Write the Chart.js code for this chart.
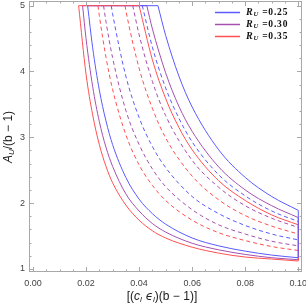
<!DOCTYPE html>
<html>
<head>
<meta charset="utf-8">
<script src="https://cdn.jsdelivr.net/npm/chart.js@4.4.0/dist/chart.umd.min.js"></script>
<style>
html, body { margin: 0; padding: 0; background: #fff; }
</style>
</head>
<body>
<canvas id="chart" width="306" height="306"></canvas>
<script>
// tick labels
var xTickLabels = ['0.00', '0.02', '0.04', '0.06', '0.08', '0.10'];
var yTickLabels = ['1', '2', '3', '4', '5'];
var ruLabels = ['0.25', '0.30', '0.35'];

// R_U = 0.25 (blue)
var blueInnerX = [0.0206, 0.0225, 0.025, 0.0275, 0.03, 0.035, 0.04, 0.045, 0.05, 0.06, 0.07, 0.08, 0.09, 0.10];
var blueInnerY = [5, 4.36, 3.72, 3.25, 2.89, 2.39, 2.06, 1.84, 1.68, 1.47, 1.35, 1.27, 1.21, 1.17];
var blueDash1X = [0.0295, 0.03, 0.035, 0.04, 0.045, 0.05, 0.06, 0.07, 0.08, 0.09, 0.10];
var blueDash1Y = [5, 4.88, 3.93, 3.30, 2.86, 2.54, 2.10, 1.84, 1.66, 1.53, 1.44];
var blueDash2X = [0.0412, 0.045, 0.05, 0.055, 0.06, 0.07, 0.08, 0.09, 0.10];
var blueDash2Y = [5, 4.37, 3.75, 3.29, 2.93, 2.43, 2.11, 1.88, 1.72];
var blueOuterX = [0.0471, 0.05, 0.055, 0.06, 0.07, 0.08, 0.09, 0.10];
var blueOuterY = [5, 4.55, 3.93, 3.46, 2.81, 2.39, 2.10, 1.89];

// R_U = 0.30 (purple)
var purpleInnerX = [0.0187, 0.02, 0.0225, 0.025, 0.0275, 0.03, 0.035, 0.04, 0.045, 0.05, 0.06, 0.07, 0.08, 0.09, 0.10];
var purpleInnerY = [5, 4.50, 3.77, 3.24, 2.85, 2.56, 2.14, 1.88, 1.69, 1.56, 1.39, 1.29, 1.22, 1.17, 1.14];
var purpleDash1X = [0.0266, 0.0275, 0.03, 0.035, 0.04, 0.045, 0.05, 0.06, 0.07, 0.08, 0.09, 0.10];
var purpleDash1Y = [5, 4.76, 4.21, 3.41, 2.89, 2.52, 2.25, 1.90, 1.67, 1.53, 1.42, 1.35];
var purpleDash2X = [0.0376, 0.04, 0.045, 0.05, 0.06, 0.07, 0.08, 0.09, 0.10];
var purpleDash2Y = [5, 4.56, 3.85, 3.33, 2.65, 2.24, 1.96, 1.77, 1.63];
var purpleOuterX = [0.0429, 0.045, 0.05, 0.055, 0.06, 0.07, 0.08, 0.09, 0.10];
var purpleOuterY = [5, 4.65, 3.98, 3.47, 3.09, 2.55, 2.20, 1.96, 1.78];

// R_U = 0.35 (red)
var redInnerX = [0.0172, 0.02, 0.0225, 0.025, 0.0275, 0.03, 0.035, 0.04, 0.045, 0.05, 0.06, 0.07, 0.08, 0.09, 0.10];
var redInnerY = [5, 3.96, 3.34, 2.89, 2.56, 2.31, 1.97, 1.74, 1.58, 1.47, 1.33, 1.24, 1.18, 1.15, 1.12];
var redDash1X = [0.0245, 0.025, 0.0275, 0.03, 0.035, 0.04, 0.045, 0.05, 0.06, 0.07, 0.08, 0.09, 0.10];
var redDash1Y = [5, 4.85, 4.22, 3.73, 3.04, 2.58, 2.27, 2.04, 1.74, 1.55, 1.43, 1.34, 1.28];
var redDash2X = [0.0347, 0.035, 0.04, 0.045, 0.05, 0.06, 0.07, 0.08, 0.09, 0.10];
var redDash2Y = [5, 4.93, 4.05, 3.44, 2.99, 2.41, 2.05, 1.81, 1.65, 1.53];
var redOuterX = [0.0400, 0.045, 0.05, 0.055, 0.06, 0.07, 0.08, 0.09, 0.10];
var redOuterY = [5, 4.18, 3.59, 3.15, 2.81, 2.34, 2.04, 1.82, 1.67];

var BLUE = 'rgb(90,90,255)', PURPLE = 'rgb(165,80,175)', RED = 'rgb(255,80,80)';

function pts(xs, ys) {
	return xs.map(function(x, i) { return {x: x, y: ys[i]}; });
}

function curve(xs, ys, color, dashed, order) {
	return {
		data: pts(xs, ys),
		borderColor: color,
		borderWidth: 1,
		borderDash: dashed ? [4, 3] : [],
		pointRadius: 0,
		cubicInterpolationMode: 'monotone',
		fill: false,
		order: order
	};
}

// straight edge between first points (top) or last points (right side) of two curves
function edge(xs1, ys1, xs2, ys2, color, order, last) {
	var i = last ? xs1.length - 1 : 0, j = last ? xs2.length - 1 : 0;
	return {
		data: [{x: xs1[i], y: ys1[i]}, {x: xs2[j], y: ys2[j]}],
		borderColor: color,
		borderWidth: 1,
		pointRadius: 0,
		tension: 0,
		fill: false,
		order: order
	};
}

function drawParts(ctx, parts, x, y, align) {
	var total = 0;
	parts.forEach(function(p) { ctx.font = p.f; total += ctx.measureText(p.t).width; });
	var cx = align === 'center' ? x - total / 2 : x;
	parts.forEach(function(p) {
		ctx.font = p.f;
		ctx.fillText(p.t, cx, y + (p.dy || 0));
		cx += ctx.measureText(p.t).width;
	});
}

var framePlugin = {
	id: 'frame',
	afterDraw: function(chart) {
		var ctx = chart.ctx, a = chart.chartArea, xs = chart.scales.x, ys = chart.scales.y;
		ctx.save();
		ctx.strokeStyle = '#a8a8a8';
		ctx.lineWidth = 1;
		ctx.strokeRect(a.left + 0.5, a.top + 0.5, a.right - a.left - 1, a.bottom - a.top - 1);
		ctx.beginPath();
		var v, px, len;
		for (v = 0; v <= 0.1001; v += 0.005) {
			px = Math.round(xs.getPixelForValue(v)) + 0.5;
			len = Math.abs(v / 0.02 - Math.round(v / 0.02)) < 1e-6 ? 5 : 2.5;
			ctx.moveTo(px, a.bottom); ctx.lineTo(px, a.bottom - len);
			ctx.moveTo(px, a.top); ctx.lineTo(px, a.top + len);
		}
		for (v = 1; v <= 5.001; v += 0.2) {
			px = Math.round(ys.getPixelForValue(v)) + 0.5;
			len = Math.abs(v - Math.round(v)) < 1e-6 ? 5 : 2.5;
			ctx.moveTo(a.left, px); ctx.lineTo(a.left + len, px);
			ctx.moveTo(a.right, px); ctx.lineTo(a.right - len, px);
		}
		ctx.stroke();

		// axis titles
		ctx.fillStyle = '#222';
		ctx.textBaseline = 'middle';
		var sans = 'px "Liberation Sans"';
		drawParts(ctx, [
			{t: '[(', f: '12' + sans},
			{t: 'c', f: 'italic 12' + sans},
			{t: 'l', f: 'italic 8' + sans, dy: 3},
			{t: ' \u03F5', f: 'italic 12px "DejaVu Sans"'},
			{t: 'l', f: 'italic 8' + sans, dy: 3},
			{t: ')(b \u2212 1)]', f: '12' + sans}
		], 162, 297, 'center');

		ctx.save();
		ctx.translate(9, 137);
		ctx.rotate(-Math.PI / 2);
		drawParts(ctx, [
			{t: 'A', f: 'italic 12' + sans},
			{t: 'U', f: 'italic 8' + sans, dy: 3},
			{t: '/(b \u2212 1)', f: '12' + sans}
		], 0, 0, 'center');
		ctx.restore();

		// legend
		var colors = [BLUE, PURPLE, RED];
		ctx.lineWidth = 1.5;
		ruLabels.forEach(function(lab, k) {
			var y = 12.5 + k * 12;
			ctx.strokeStyle = colors[k];
			ctx.beginPath();
			ctx.moveTo(215, y); ctx.lineTo(240, y);
			ctx.stroke();
			ctx.fillStyle = '#111';
			ctx.letterSpacing = '0.8px';
			drawParts(ctx, [
				{t: 'R', f: 'italic bold 10px "Liberation Serif"'},
				{t: 'U', f: 'italic bold 6.5px "Liberation Serif"', dy: 2},
				{t: ' =' + lab, f: 'bold 9.5px "Liberation Serif"'}
			], 246, y, 'left');
			ctx.letterSpacing = '0px';
		});
		ctx.restore();
	}
};

var ctx = document.getElementById('chart').getContext('2d');
new Chart(ctx, {
	type: 'line',
	data: {
		datasets: [
			// top edges: red over blue over purple
			edge(redInnerX, redInnerY, redOuterX, redOuterY, RED, 0, false),
			edge(blueInnerX, blueInnerY, blueOuterX, blueOuterY, BLUE, 1, false),
			edge(purpleInnerX, purpleInnerY, purpleOuterX, purpleOuterY, PURPLE, 2, false),
			// right edges: blue over red over purple
			edge(blueInnerX, blueInnerY, blueOuterX, blueOuterY, BLUE, 0, true),
			edge(redInnerX, redInnerY, redOuterX, redOuterY, RED, 1, true),
			edge(purpleInnerX, purpleInnerY, purpleOuterX, purpleOuterY, PURPLE, 2, true),
			curve(redInnerX, redInnerY, RED, false, 3),
			curve(redOuterX, redOuterY, RED, false, 3),
			curve(redDash1X, redDash1Y, RED, true, 4),
			curve(redDash2X, redDash2Y, RED, true, 4),
			curve(blueInnerX, blueInnerY, BLUE, false, 5),
			curve(blueOuterX, blueOuterY, BLUE, false, 5),
			curve(blueDash1X, blueDash1Y, BLUE, true, 6),
			curve(blueDash2X, blueDash2Y, BLUE, true, 6),
			curve(purpleInnerX, purpleInnerY, PURPLE, false, 7),
			curve(purpleOuterX, purpleOuterY, PURPLE, false, 7),
			curve(purpleDash1X, purpleDash1Y, PURPLE, true, 8),
			curve(purpleDash2X, purpleDash2Y, PURPLE, true, 8)
		]
	},
	options: {
		responsive: false,
		animation: false,
		devicePixelRatio: 1,
		layout: {padding: {top: 1, right: 4, left: 0, bottom: 0}},
		plugins: {legend: {display: false}, tooltip: {enabled: false}},
		scales: {
			x: {
				type: 'linear',
				min: -0.0015,
				max: 0.1014,
				grid: {display: false, drawTicks: false},
				border: {display: false},
				ticks: {
					color: '#444',
					font: {family: 'Liberation Sans', size: 9},
					padding: 6,
					autoSkip: false,
					maxRotation: 0,
					callback: function(v, i) { return xTickLabels[i]; }
				},
				afterBuildTicks: function(s) {
					s.ticks = xTickLabels.map(function(t) { return {value: parseFloat(t)}; });
				},
				afterFit: function(s) { s.height = 34; s.paddingLeft = 0; s.paddingRight = 0; }
			},
			y: {
				type: 'linear',
				min: 0.953,
				max: 5.071,
				grid: {display: false, drawTicks: false},
				border: {display: false},
				ticks: {
					color: '#444',
					font: {family: 'Liberation Sans', size: 9},
					padding: 4,
					callback: function(v, i) { return yTickLabels[i]; }
				},
				afterBuildTicks: function(s) {
					s.ticks = yTickLabels.map(function(t) { return {value: parseFloat(t)}; });
				},
				afterFit: function(s) { s.width = 29; s.paddingTop = 0; s.paddingBottom = 0; }
			}
		}
	},
	plugins: [framePlugin]
});
</script>
</body>
</html>
